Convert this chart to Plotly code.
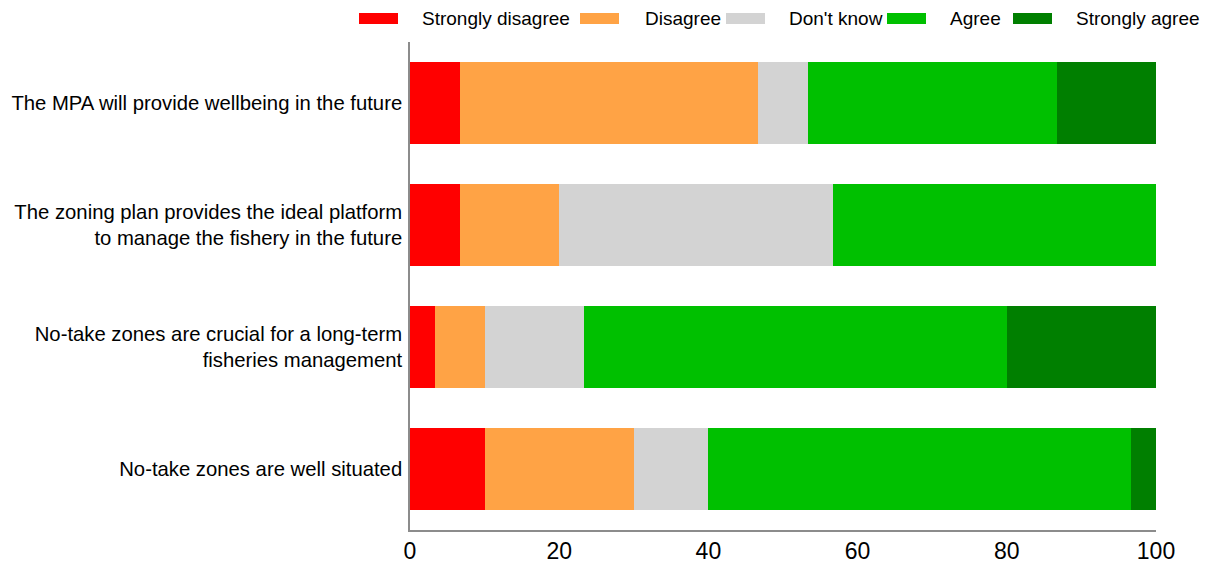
import plotly.graph_objects as go

statements = [
    "The MPA will provide wellbeing in the future",
    "The zoning plan provides the ideal platform<br>to manage the fishery in the future",
    "No-take zones are crucial for a long-term<br>fisheries management",
    "No-take zones are well situated",
]
series_names = ["Strongly disagree", "Disagree", "Don't know", "Agree", "Strongly agree"]
strongly_disagree = [6.67, 6.67, 3.33, 10.0]
disagree = [40.0, 13.33, 6.67, 20.0]
dont_know = [6.67, 36.67, 13.33, 10.0]
agree = [33.33, 43.33, 56.67, 56.67]
strongly_agree = [13.33, 0.0, 20.0, 3.33]
x_ticks = [0, 20, 40, 60, 80, 100]

colors = ["#FF0000", "#FFA345", "#D3D3D3", "#00C000", "#007F00"]
values = [strongly_disagree, disagree, dont_know, agree, strongly_agree]

fig = go.Figure()
for name, vals, col in zip(series_names, values, colors):
    fig.add_trace(go.Bar(y=statements, x=vals, name=name, orientation="h",
                         marker=dict(color=col, line=dict(width=0)),
                         showlegend=False))

# plot area in pixels
W, H = 1209, 563
L, R, T, B = 410, 53, 42, 33
pw, ph = W - L - R, H - T - B

def px2x(px):
    return (px - L) / pw

def py2y(py):
    return (H - B - py) / ph

# manual legend (positions measured from reference)
legend_x = [359, 580, 726, 887, 1013]
legend_text_off = [61, 63, 61, 61, 61]
shapes = []
annotations = []
for name, col, lx, off in zip(series_names, colors, legend_x, legend_text_off):
    shapes.append(dict(type="rect", xref="paper", yref="paper",
                       x0=px2x(lx), x1=px2x(lx + 39), y0=py2y(24), y1=py2y(13),
                       fillcolor=col, line=dict(width=0)))
    annotations.append(dict(xref="paper", yref="paper", x=px2x(lx + off), y=py2y(19),
                            xanchor="left", yanchor="middle", text=name, showarrow=False,
                            font=dict(family="Liberation Sans Narrow, Liberation Sans, Arial", size=19, color="#000000")))

fig.update_layout(
    barmode="stack",
    bargap=0.33,
    width=W, height=H,
    margin=dict(l=L, r=R, t=T, b=B, autoexpand=False),
    plot_bgcolor="white", paper_bgcolor="white",
    showlegend=False,
    shapes=shapes,
    annotations=annotations,
    xaxis=dict(range=[0, 100], tickvals=x_ticks, showgrid=False, zeroline=False,
               showline=True, linecolor="#8C8C8C", linewidth=1.5, ticks="",
               ticklabelstandoff=0,
               tickfont=dict(family="Liberation Sans Narrow, Liberation Sans, Arial", size=23, color="#000000")),
    yaxis=dict(autorange="reversed", showgrid=False, zeroline=False,
               showline=True, linecolor="#8C8C8C", linewidth=1.5, ticks="",
               ticklabelstandoff=2,
               tickfont=dict(family="Liberation Sans, Arial", size=20.3, color="#000000")),
)

fig.write_html("out.html", config={"displayModeBar": False},
               post_script="document.body.style.margin='0';document.body.style.overflow='hidden';")
